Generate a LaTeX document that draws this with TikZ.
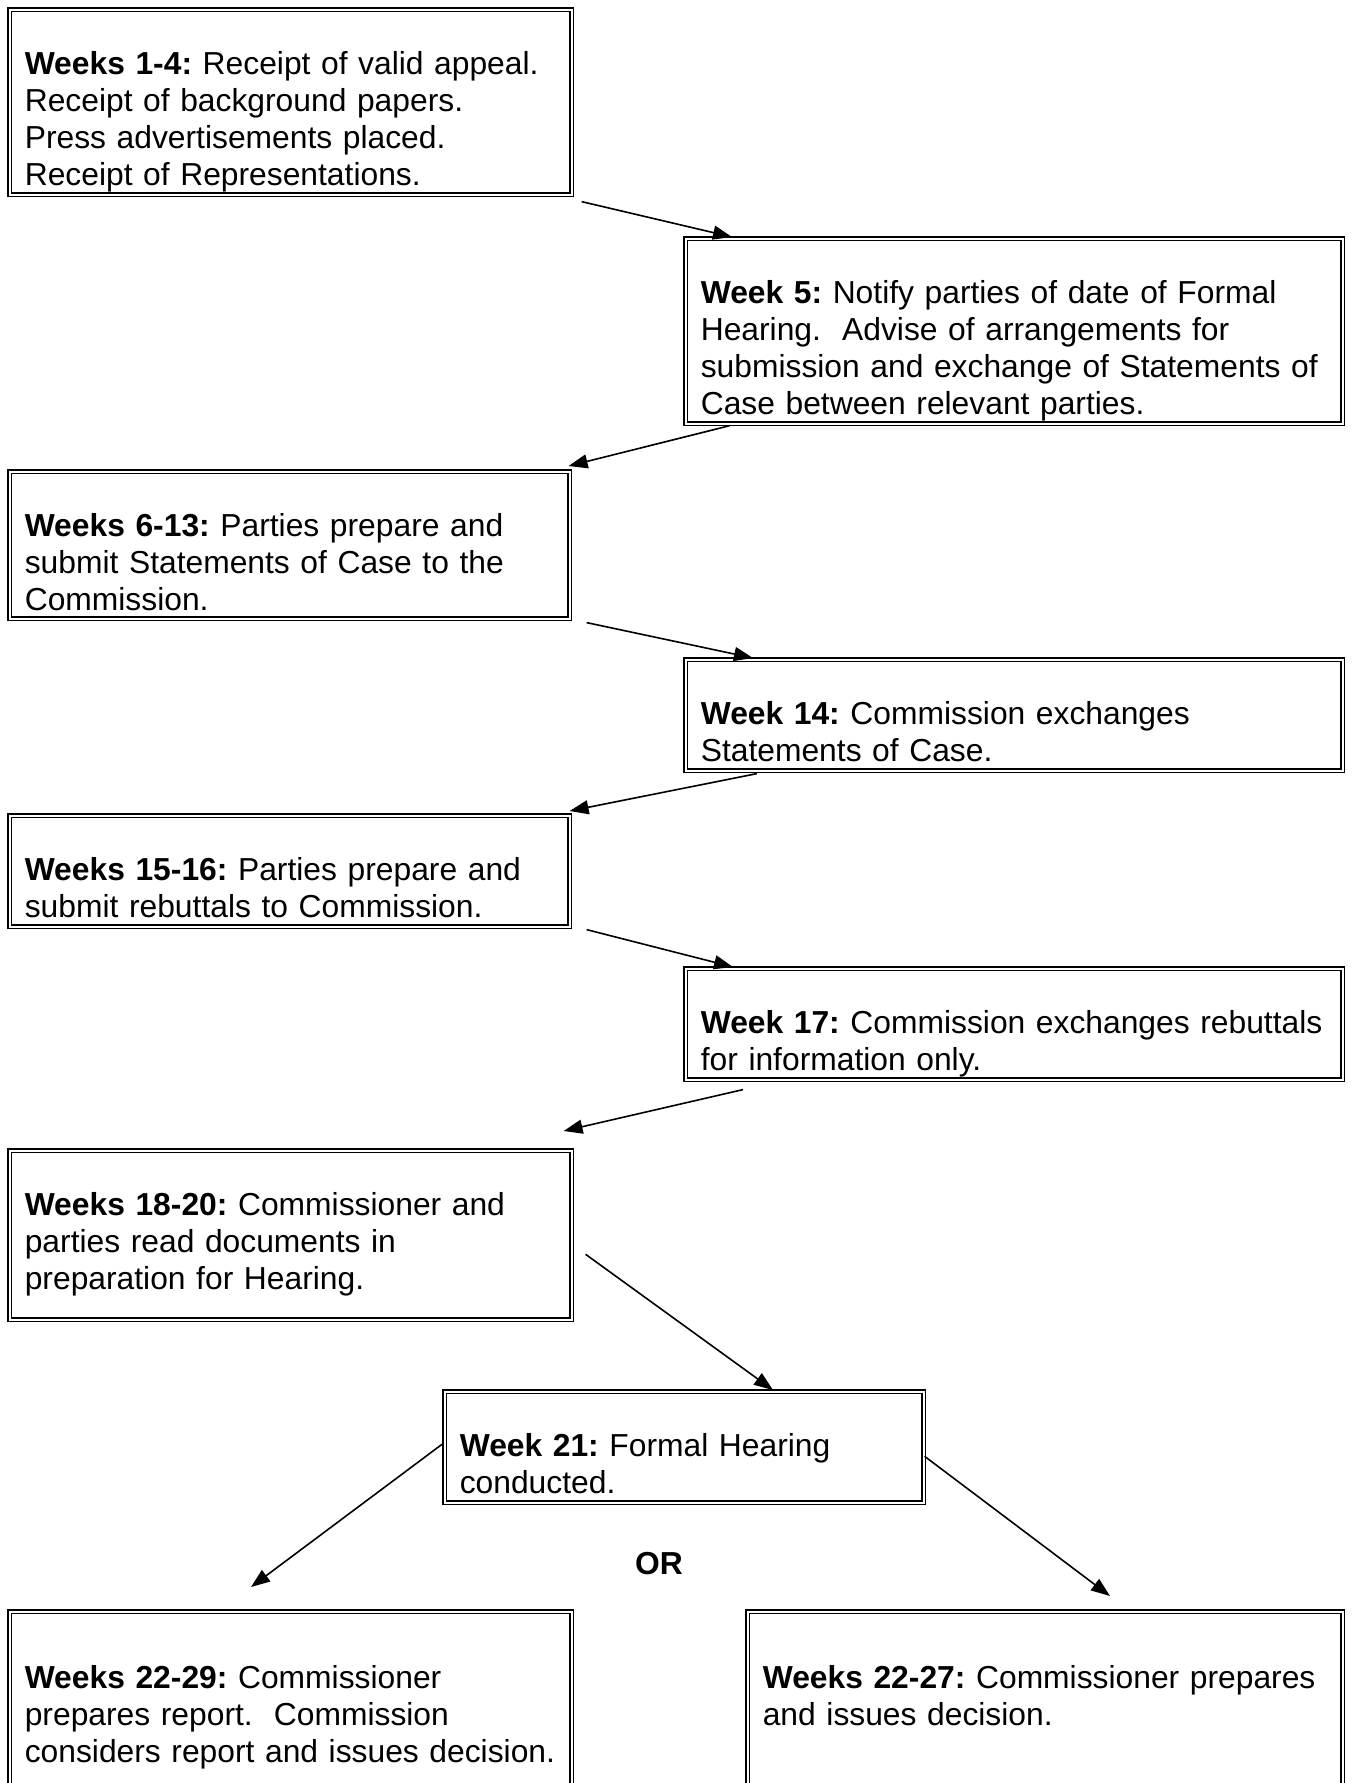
\documentclass[tikz,border=0pt]{standalone}
\usepackage{fontspec}
\setmainfont{Liberation Sans}
\usetikzlibrary{arrows.meta}
\frenchspacing
\newcommand{\vgap}[1]{\vrule width 0pt height #1}
\newcommand{\pad}[1]{\vrule width 0pt height 0pt depth #1}

\begin{document}
\begin{tikzpicture}[x=0.5pt,y=-0.5pt,
  wkbox/.style={draw, double, line width=0.8pt, double distance=0.9pt,
    anchor=north west, inner xsep=7.5pt, inner ysep=0pt, align=left,
    text width=#1, font=\fontsize{15.9}{18.5}\selectfont},
  flow/.style={line width=0.8pt, -{Triangle[length=9.5pt,width=7pt]}}]
  \useasboundingbox (0,0) rectangle (1353,1783);
  \clip (0,0) rectangle (1353,1783);

  \node[wkbox=266pt] (w1) at (9,9) {\vgap{14pt}\\ \textbf{Weeks 1-4:} Receipt of valid appeal.\\
    Receipt of background papers.\\ Press advertisements placed.\\ Receipt of Representations.\pad{4.5pt}};
  \node[wkbox=313.5pt] (w5) at (685,238) {\vgap{14pt}\\ \textbf{Week 5:} Notify parties of date of Formal\\
    Hearing.~ Advise of arrangements for\\ submission and exchange of Statements of\\
    Case between relevant parties.\pad{4.5pt}};
  \node[wkbox=265pt] (w6) at (9,471) {\vgap{14pt}\\ \textbf{Weeks 6-13:} Parties prepare and\\
    submit Statements of Case to the\\ Commission.\pad{4pt}};
  \node[wkbox=313.5pt] (w14) at (685,659) {\vgap{14pt}\\ \textbf{Week 14:} Commission exchanges\\
    Statements of Case.\pad{4.5pt}};
  \node[wkbox=265pt] (w15) at (9,815) {\vgap{14pt}\\ \textbf{Weeks 15-16:} Parties prepare and\\
    submit rebuttals to Commission.\pad{4.5pt}};
  \node[wkbox=313.5pt] (w17) at (685,968) {\vgap{14pt}\\
    \makebox[\linewidth][s]{\textbf{Week 17:} Commission exchanges rebuttals}\\
    for information only.\pad{4.5pt}};
  \node[wkbox=266pt] (w18) at (9,1150) {\vgap{14pt}\\ \textbf{Weeks 18-20:} Commissioner and\\
    parties read documents in\\ preparation for Hearing.\pad{15pt}};
  \node[wkbox=224.5pt] (w21) at (444,1391) {\vgap{14pt}\\ \textbf{Week 21:} Formal Hearing\\
    conducted.\pad{4.5pt}};
  \node[font=\fontsize{15.9}{18.5}\selectfont\bfseries] (or) at (659,1564) {OR};
  \node[wkbox=266pt] (w29) at (9,1611) {\vgap{20pt}\\ \textbf{Weeks 22-29:} Commissioner\\
    prepares report.~ Commission\\ \mbox{considers report and issues decision.}\pad{80pt}};
  \node[wkbox=282.5pt] (w27) at (747,1611) {\vgap{20pt}\\ \textbf{Weeks 22-27:} Commissioner prepares\\
    and issues decision.\pad{100pt}};

  \draw[flow] ([shift={(9,6)}]w1.south east) -- ([shift={(47,-1)}]w5.north west);
  \draw[flow] ([shift={(45,1)}]w5.south west) -- ([shift={(-2,-5)}]w6.north east);
  \draw[flow] ([shift={(16,3)}]w6.south east) -- ([shift={(68,-1)}]w14.north west);
  \draw[flow] ([shift={(72,2)}]w14.south west) -- ([shift={(-1,-4)}]w15.north east);
  \draw[flow] ([shift={(16,2)}]w15.south east) -- ([shift={(48,-1)}]w17.north west);
  \draw[flow] ([shift={(58,9)}]w17.south west) -- ([shift={(-9,-19)}]w18.north east);
  \draw[flow] ([shift={(13,19)}]w18.east) -- ([shift={(329,-1)}]w21.north west);
  \draw[flow] ([shift={(-2,-3)}]w21.west) -- ([shift={(242,-24)}]w29.north west);
  \draw[flow] ([shift={(0,9)}]w21.east) -- ([shift={(363,-15)}]w27.north west);
\end{tikzpicture}
\end{document}
